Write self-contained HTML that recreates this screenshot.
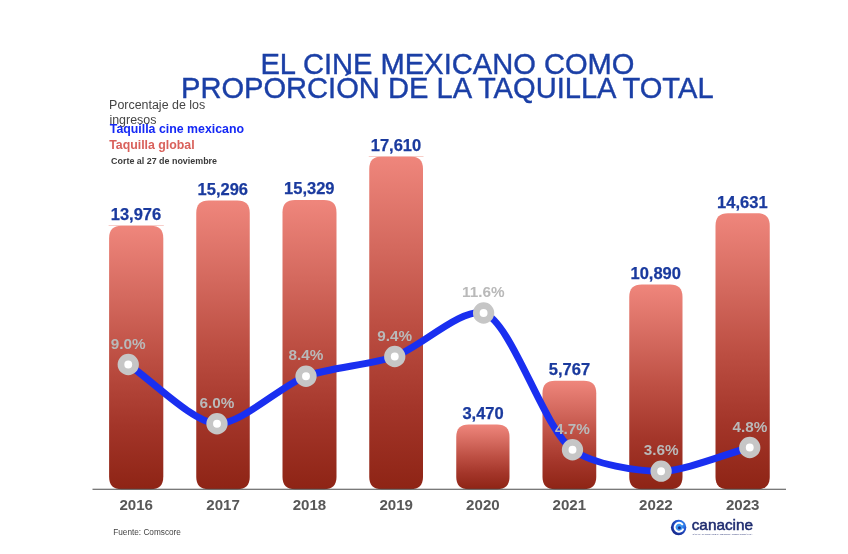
<!DOCTYPE html>
<html lang="es"><head><meta charset="utf-8"><title>El cine mexicano como proporción de la taquilla total</title>
<style>
html,body{margin:0;padding:0;background:#fff;}
body{width:848px;height:554px;overflow:hidden;}
svg{display:block;}
text{font-family:"Liberation Sans",Arial,Helvetica,sans-serif;}
</style></head><body>
<svg width="848" height="554" viewBox="0 0 848 554">
<defs>
<linearGradient id="g" x1="0" y1="0" x2="0" y2="1">
<stop offset="0" stop-color="#ef867c"/>
<stop offset="0.28" stop-color="#d3685d"/>
<stop offset="0.5" stop-color="#bd4f43"/>
<stop offset="0.76" stop-color="#a33529"/>
<stop offset="1" stop-color="#8e2415"/>
</linearGradient>
<radialGradient id="lg" cx="0.68" cy="0.32" r="0.8">
<stop offset="0" stop-color="#3b9cf5"/>
<stop offset="0.45" stop-color="#2257d6"/>
<stop offset="1" stop-color="#141c78"/>
</radialGradient>
</defs>
<rect width="848" height="554" fill="#fff"/>
<path d="M109.1 238.2C109.1 229.825 113.225 225.7 121.6 225.7H150.8C159.175 225.7 163.3 229.825 163.3 238.2V476.75C163.3 485.125 159.175 489.25 150.8 489.25H121.6C113.225 489.25 109.1 485.125 109.1 476.75Z" fill="url(#g)"/>
<path d="M196.25 213.0C196.25 204.625 200.375 200.5 208.75 200.5H237.25C245.625 200.5 249.75 204.625 249.75 213.0V476.75C249.75 485.125 245.625 489.25 237.25 489.25H208.75C200.375 489.25 196.25 485.125 196.25 476.75Z" fill="url(#g)"/>
<path d="M282.5 212.5C282.5 204.125 286.625 200.0 295.0 200.0H324.0C332.375 200.0 336.5 204.125 336.5 212.5V476.75C336.5 485.125 332.375 489.25 324.0 489.25H295.0C286.625 489.25 282.5 485.125 282.5 476.75Z" fill="url(#g)"/>
<path d="M369.25 169.1C369.25 160.725 373.375 156.6 381.75 156.6H410.5C418.875 156.6 423.0 160.725 423.0 169.1V476.75C423.0 485.125 418.875 489.25 410.5 489.25H381.75C373.375 489.25 369.25 485.125 369.25 476.75Z" fill="url(#g)"/>
<path d="M456.25 436.9C456.25 428.525 460.375 424.4 468.75 424.4H497.0C505.375 424.4 509.5 428.525 509.5 436.9V476.75C509.5 485.125 505.375 489.25 497.0 489.25H468.75C460.375 489.25 456.25 485.125 456.25 476.75Z" fill="url(#g)"/>
<path d="M542.5 393.25C542.5 384.875 546.625 380.75 555.0 380.75H583.75C592.125 380.75 596.25 384.875 596.25 393.25V476.75C596.25 485.125 592.125 489.25 583.75 489.25H555.0C546.625 489.25 542.5 485.125 542.5 476.75Z" fill="url(#g)"/>
<path d="M629.25 297.0C629.25 288.625 633.375 284.5 641.75 284.5H670.0C678.375 284.5 682.5 288.625 682.5 297.0V476.75C682.5 485.125 678.375 489.25 670.0 489.25H641.75C633.375 489.25 629.25 485.125 629.25 476.75Z" fill="url(#g)"/>
<path d="M715.5 225.75C715.5 217.375 719.625 213.25 728.0 213.25H757.25C765.625 213.25 769.75 217.375 769.75 225.75V476.75C769.75 485.125 765.625 489.25 757.25 489.25H728.0C719.625 489.25 715.5 485.125 715.5 476.75Z" fill="url(#g)"/>
<rect x="108.6" y="225.25" width="55.20" height="0.7" fill="#f4b9b3"/>
<rect x="368.75" y="156.15" width="54.75" height="0.7" fill="#f4b9b3"/>
<rect x="92.5" y="488.75" width="693.5" height="1" fill="#4d4d4d"/>
<text transform="translate(260.39 73.70) scale(1.0 1.04)" font-size="29.12" stroke="#1b3fa6" stroke-width="0.4" fill="#1b3fa6">EL CINE MEXICANO COMO</text>
<text transform="translate(180.99 97.90) scale(1.0 1.04)" font-size="29.12" stroke="#1b3fa6" stroke-width="0.4" fill="#1b3fa6">PROPORCIÓN DE LA TAQUILLA TOTAL</text>
<text x="109.10" y="108.60" font-size="12.45" fill="#454545">Porcentaje de los</text>
<text x="109.42" y="123.50" font-size="12.45" fill="#454545">ingresos</text>
<text x="109.78" y="133.20" font-size="12.35" font-weight="bold" fill="#1428f5">Taquilla cine mexicano</text>
<text x="109.17" y="148.90" font-size="12.35" font-weight="bold" fill="#d9615b">Taquilla global</text>
<text x="111.12" y="163.50" font-size="8.92" font-weight="bold" fill="#3a3a3a">Corte al 27 de noviembre</text>
<text x="110.76" y="220.10" font-size="16.5" font-weight="bold" stroke="#1a3a9e" stroke-width="0.25" fill="#1a3a9e">13,976</text>
<text x="119.45" y="510.40" font-size="15.1" font-weight="bold" fill="#585858">2016</text>
<text x="197.56" y="194.90" font-size="16.5" font-weight="bold" stroke="#1a3a9e" stroke-width="0.25" fill="#1a3a9e">15,296</text>
<text x="206.31" y="510.40" font-size="15.1" font-weight="bold" fill="#585858">2017</text>
<text x="284.06" y="194.40" font-size="16.5" font-weight="bold" stroke="#1a3a9e" stroke-width="0.25" fill="#1a3a9e">15,329</text>
<text x="292.69" y="510.40" font-size="15.1" font-weight="bold" fill="#585858">2018</text>
<text x="370.75" y="151.00" font-size="16.5" font-weight="bold" stroke="#1a3a9e" stroke-width="0.25" fill="#1a3a9e">17,610</text>
<text x="379.38" y="510.40" font-size="15.1" font-weight="bold" fill="#585858">2019</text>
<text x="462.38" y="418.80" font-size="16.5" font-weight="bold" stroke="#1a3a9e" stroke-width="0.25" fill="#1a3a9e">3,470</text>
<text x="466.12" y="510.40" font-size="15.1" font-weight="bold" fill="#585858">2020</text>
<text x="548.81" y="375.15" font-size="16.5" font-weight="bold" stroke="#1a3a9e" stroke-width="0.25" fill="#1a3a9e">5,767</text>
<text x="552.56" y="510.40" font-size="15.1" font-weight="bold" fill="#585858">2021</text>
<text x="630.50" y="278.90" font-size="16.5" font-weight="bold" stroke="#1a3a9e" stroke-width="0.25" fill="#1a3a9e">10,890</text>
<text x="639.12" y="510.40" font-size="15.1" font-weight="bold" fill="#585858">2022</text>
<text x="717.12" y="207.65" font-size="16.5" font-weight="bold" stroke="#1a3a9e" stroke-width="0.25" fill="#1a3a9e">14,631</text>
<text x="725.88" y="510.40" font-size="15.1" font-weight="bold" fill="#585858">2023</text>
<text transform="translate(113.20 535.40) scale(0.937 1.0)" font-size="8.8" fill="#444">Fuente: Comscore</text>
<path d="M128.25 364.50 C151.92 380.30 192.96 422.57 217.00 423.75 C240.38 424.90 281.65 385.26 306.00 376.25 C329.11 367.69 371.55 364.63 394.75 356.50 C418.95 348.02 462.20 307.09 483.60 313.00 C511.08 320.59 544.27 429.77 572.50 449.75 C593.60 464.69 637.51 471.48 661.10 471.20 C684.77 470.92 726.11 453.82 749.75 447.50" fill="none" stroke="#1a2ff0" stroke-width="7" stroke-linecap="round" stroke-linejoin="round"/>
<text x="110.75" y="348.70" font-size="15.3" font-weight="bold" fill="#b9b9b9">9.0%</text>
<text x="199.44" y="407.95" font-size="15.3" font-weight="bold" fill="#b9b9b9">6.0%</text>
<text x="288.50" y="360.45" font-size="15.3" font-weight="bold" fill="#b9b9b9">8.4%</text>
<text x="377.25" y="340.70" font-size="15.3" font-weight="bold" fill="#b9b9b9">9.4%</text>
<text x="462.04" y="297.20" font-size="15.3" font-weight="bold" fill="#b9b9b9">11.6%</text>
<text x="555.12" y="433.95" font-size="15.3" font-weight="bold" fill="#b9b9b9">4.7%</text>
<text x="643.66" y="455.40" font-size="15.3" font-weight="bold" fill="#b9b9b9">3.6%</text>
<text x="732.38" y="431.70" font-size="15.3" font-weight="bold" fill="#b9b9b9">4.8%</text>
<circle cx="128.25" cy="364.5" r="7.3" fill="#fff" stroke="#c6c6c6" stroke-width="6.7"/>
<circle cx="217" cy="423.75" r="7.3" fill="#fff" stroke="#c6c6c6" stroke-width="6.7"/>
<circle cx="306" cy="376.25" r="7.3" fill="#fff" stroke="#c6c6c6" stroke-width="6.7"/>
<circle cx="394.75" cy="356.5" r="7.3" fill="#fff" stroke="#c6c6c6" stroke-width="6.7"/>
<circle cx="483.6" cy="313" r="7.3" fill="#fff" stroke="#c6c6c6" stroke-width="6.7"/>
<circle cx="572.5" cy="449.75" r="7.3" fill="#fff" stroke="#c6c6c6" stroke-width="6.7"/>
<circle cx="661.1" cy="471.2" r="7.3" fill="#fff" stroke="#c6c6c6" stroke-width="6.7"/>
<circle cx="749.75" cy="447.5" r="7.3" fill="#fff" stroke="#c6c6c6" stroke-width="6.7"/>
<g>
<circle cx="678.6" cy="527.5" r="7.7" fill="url(#lg)"/>
<circle cx="679.2" cy="527.2" r="3.4" fill="#3a97f2"/>
<path d="M682.3 524.3A4.4 4.4 0 1 0 682.9 529.4" fill="none" stroke="#fff" stroke-width="2" stroke-linecap="round"/>
<circle cx="679.4" cy="527.8" r="1.5" fill="#1a2a80"/>
<text transform="translate(691.7 529.55) scale(1.145 1.04)" font-size="13.4" fill="#1d2a6e" stroke="#1d2a6e" stroke-width="0.45">canacine</text>
<text x="692.4" y="534.9" font-size="2.3" fill="#2a3575" textLength="60" lengthAdjust="spacingAndGlyphs">CÁMARA NACIONAL DE LA INDUSTRIA CINEMATOGRÁFICA</text>
</g>
</svg>
</body></html>
